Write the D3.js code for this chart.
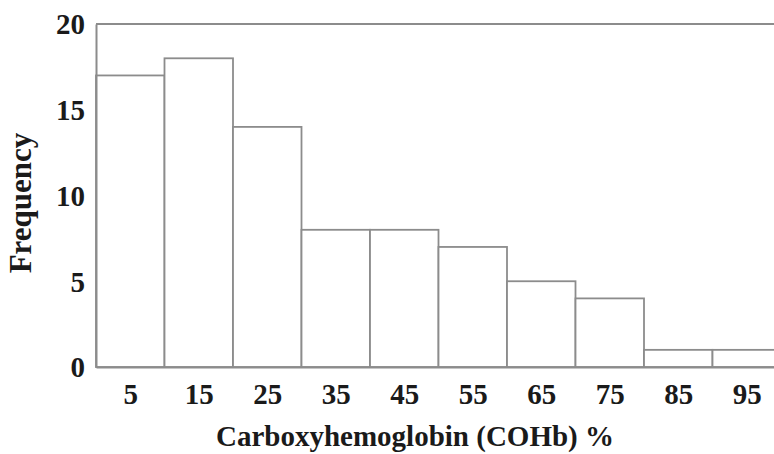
<!DOCTYPE html>
<html>
<head>
<meta charset="utf-8">
<script src="https://cdn.jsdelivr.net/npm/d3@7"></script>
<style>
  body { margin: 0; background: #fff; }
  text { font-family: "Liberation Serif", "Times New Roman", serif; font-weight: bold; fill: #1a1a1a; }
</style>
</head>
<body>
<div id="chart"></div>
<script>
// histogram bins (lower edge) and counts
var binStarts = [0, 10, 20, 30, 40, 50, 60, 70, 80, 90];
var binWidth = 10;
var counts = [17, 18, 14, 8, 8, 7, 5, 4, 1, 1];
var xTickValues = [5, 15, 25, 35, 45, 55, 65, 75, 85, 95];
var yTickValues = [0, 5, 10, 15, 20];

var data = binStarts.map(function(d, i) {
    return { x0: d, x1: d + binWidth, count: counts[i] };
});

var width = 774, height = 454;
var margin = { top: 24, left: 96, bottom: 87 };

var svg = d3.select('#chart')
    .append('svg')
    .attr('width', width)
    .attr('height', height);

// the right edge of the frame runs off the picture
var x = d3.scaleLinear()
    .domain([0, 100])
    .range([margin.left, 781]);

var y = d3.scaleLinear()
    .domain([0, 20])
    .range([height - margin.bottom, margin.top]);

var lineColor = "#8c8c8c";

// top frame line
svg.append("line")
    .attr("x1", x(0)).attr("x2", x(100))
    .attr("y1", y(20)).attr("y2", y(20))
    .attr("stroke", lineColor)
    .attr("stroke-width", 2);

svg.selectAll(".bar")
    .data(data)
    .enter()
    .append("rect")
    .attr("class", "bar")
    .attr("x", function(d) { return x(d.x0); })
    .attr("y", function(d) { return y(d.count); })
    .attr("width", function(d) { return x(d.x1) - x(d.x0); })
    .attr("height", function(d) { return y(0) - y(d.count); })
    .attr("fill", "#fff")
    .attr("stroke", lineColor)
    .attr("stroke-width", 1.8);

// y axis
var yAxis = svg.append("g")
    .attr("transform", "translate(" + x(0) + ",0)")
    .call(d3.axisLeft(y).tickValues(yTickValues).tickSize(0).tickPadding(11));
yAxis.select(".domain").attr("stroke", lineColor).attr("stroke-width", 2);
yAxis.selectAll("text")
    .style("font-size", "29px")
    .attr("dy", "0.34em");

// x axis
var xAxis = svg.append("g")
    .attr("transform", "translate(0," + y(0) + ")")
    .call(d3.axisBottom(x).tickValues(xTickValues).tickSize(0).tickPadding(16));
xAxis.select(".domain").attr("stroke", lineColor).attr("stroke-width", 2);
xAxis.selectAll("text")
    .style("font-size", "29px");

// axis titles
svg.append("text")
    .attr("x", 415)
    .attr("y", 446)
    .attr("text-anchor", "middle")
    .style("font-size", "29px")
    .text("Carboxyhemoglobin (COHb) %");

svg.append("text")
    .attr("transform", "translate(31,203) rotate(-90)")
    .attr("text-anchor", "middle")
    .style("font-size", "31px")
    .text("Frequency");
</script>
</body>
</html>
